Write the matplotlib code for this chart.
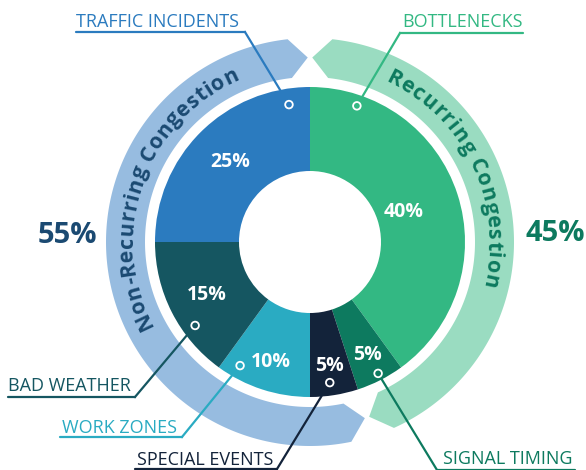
import numpy as np
import matplotlib
matplotlib.use('Agg')
import matplotlib.pyplot as plt
from matplotlib.patches import Polygon, Circle
from matplotlib.font_manager import FontProperties

# data
causes = ['BOTTLENECKS', 'SIGNAL TIMING', 'SPECIAL EVENTS', 'WORK ZONES', 'BAD WEATHER', 'TRAFFIC INCIDENTS']
shares = [40, 5, 5, 10, 15, 25]
colors = ['#33b883', '#0d7a5f', '#13233a', '#2aabc2', '#155661', '#2b7bbf']
groups = ['Recurring Congestion', 'Non-Recurring Congestion']
group_share = [45, 55]
group_colors = ['#9adcc1', '#97bce0']
group_text = ['#0d7a5f', '#1b4a72']

# layout (pixel units, centre of donut at 0,0)
R_OUT, R_IN = 155, 71
BAND_IN, BAND_OUT = 165, 204
pct_radius = [98, 127, 126, 126, 116, 113]
marker_ang = [71, -62.6, -82, -119.5, -144, 98.7]
marker_r = [144, 148, 142, 142, 142, 139]
# (text x, text y, underline x0, x1, elbow side, underline y)
callouts = [(462, 22, 400, 523, 'L', 33),
            (508, 459, 437, 575, 'L', 470),
            (205, 460, 135, 277, 'R', 469),
            (119, 428, 60, 182, 'R', 437),
            (69, 386, 8, 135, 'R', 397),
            (158, 22, 76, 245, 'R', 32)]
CX, CY = 310, 242

def px(x, y):
    return x - CX, CY - y

fig = plt.figure(figsize=(5.86, 4.70), dpi=100)
ax = fig.add_axes([0, 0, 1, 1])

ax.pie(shares, colors=colors, startangle=90, counterclock=False, radius=R_OUT,
       wedgeprops=dict(width=R_OUT - R_IN, linewidth=0))

ax.set_xlim(-CX, 586 - CX)
ax.set_ylim(CY - 470, CY)
ax.axis('off')

# percentage labels inside wedges
cum = np.cumsum([0] + shares)
for i, s in enumerate(shares):
    mid = 90 - (cum[i] + s / 2) * 3.6
    a = np.radians(mid)
    ax.text(pct_radius[i] * np.cos(a), pct_radius[i] * np.sin(a), f'{s}%',
            color='white', fontsize=14, fontweight='bold', family='Open Sans',
            ha='center', va='center')

# small hollow markers + leader lines + labels
for i, name in enumerate(causes):
    a = np.radians(marker_ang[i])
    mx, my = marker_r[i] * np.cos(a), marker_r[i] * np.sin(a)
    ax.add_patch(Circle((mx, my), 3.8, fill=False, edgecolor='white', linewidth=1.3, zorder=5))
    tx, ty, x0, x1, side, uy = callouts[i]
    ex, ey = px(x0 if side == 'L' else x1, uy)
    # stop leader at donut edge
    d = np.array([mx - ex, my - ey])
    p = np.array([ex, ey])
    aa = d @ d
    bb = 2 * p @ d
    cc = p @ p - R_OUT ** 2
    t = (-bb - np.sqrt(bb * bb - 4 * aa * cc)) / (2 * aa)
    sx, sy = p + t * d
    ux0, _ = px(x0, uy)
    ux1, _ = px(x1, uy)
    ax.plot([ux0, ux1], [ey, ey], color=colors[i], lw=1.6, solid_capstyle='round')
    ax.plot([ex, sx], [ey, sy], color=colors[i], lw=1.6)
    lx, ly = px(tx, ty)
    ax.text(lx, ly, name, color=colors[i], fontsize=13, family='Open Sans',
            ha='center', va='center')

# outer group bands with pointed ends
split = 90 - group_share[0] * 3.6
GAP, TIP = 6.3, 5.6
spans = [(split + GAP, 90 - GAP), (90 + GAP, 360 + split - GAP)]
rm = (BAND_IN + BAND_OUT) / 2
for (a0, a1), col in zip(spans, group_colors):
    th = np.radians(np.linspace(a0, a1, 200))
    outer = np.c_[BAND_OUT * np.cos(th), BAND_OUT * np.sin(th)]
    inner = np.c_[BAND_IN * np.cos(th[::-1]), BAND_IN * np.sin(th[::-1])]
    t1 = np.radians(a1 + TIP)
    t0 = np.radians(a0 - TIP)
    tip1 = [[rm * np.cos(t1), rm * np.sin(t1)]]
    tip0 = [[rm * np.cos(t0), rm * np.sin(t0)]]
    ax.add_patch(Polygon(np.vstack([outer, tip1, inner, tip0]), closed=True,
                         facecolor=col, edgecolor='none', zorder=1))

# curved text along bands
renderer = fig.canvas.get_renderer()
prop = FontProperties(family='Open Sans', weight='bold', size=15.5)

def arc_text(s, r, start, spacing, color):
    w = lambda txt: renderer.get_text_width_height_descent(txt, prop, ismath=False)[0] if txt else 0
    w0 = w(s[0])
    for i, ch in enumerate(s):
        c = (w(s[:i]) + w(s[:i + 1])) / 2 + i * spacing - w0 / 2
        th = start - np.degrees(c / r)
        a = np.radians(th)
        ax.text(r * np.cos(a), r * np.sin(a), ch, fontproperties=prop, color=color,
                rotation=th - 90, rotation_mode='anchor', ha='center', va='center', zorder=6)

arc_text(groups[0], 183, 62.6, 1.2, group_text[0])
arc_text(groups[1], 183, 205.3, 0.9, group_text[1])

# group percentages
ax.text(*px(67, 236), f'{group_share[1]}%', color=group_text[1], fontsize=21,
        fontweight='bold', family='Open Sans', ha='center', va='center')
ax.text(*px(555, 234), f'{group_share[0]}%', color=group_text[0], fontsize=21,
        fontweight='bold', family='Open Sans', ha='center', va='center')

fig.savefig('out.png', dpi=100)
